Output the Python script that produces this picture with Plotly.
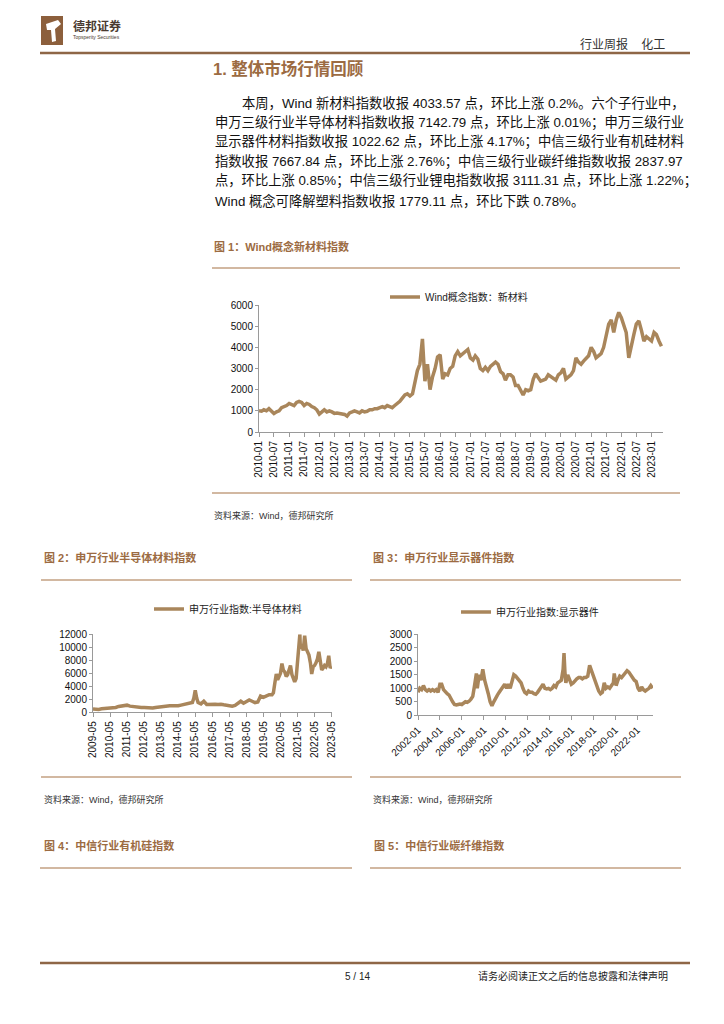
import pandas as pd
import plotly.graph_objects as go

W, H = 724, 1024
OFF = 8  # the page body margin offsets the figure by 8px
def fx(x): return (x - OFF) / W
def fy(y): return 1 - (y - OFF) / H

# ---------------- data ----------------
# Chart 1: Wind概念指数：新材料 (monthly, 2010-01 .. 2023-05)
c1_start = "2010-01-01"
c1_values = [
    1000, 980, 1050, 1000, 1100, 950, 870, 950, 1000, 1150, 1200, 1250,
    1350, 1300, 1250, 1400, 1450, 1400, 1250, 1350, 1300, 1200, 1150, 1050,
    850, 950, 1050, 950, 1000, 950, 880, 900, 880, 850, 830, 750,
    900, 950, 1000, 950, 900, 1000, 950, 980, 1050, 1050, 1100, 1100,
    1150, 1200, 1150, 1250, 1200, 1150, 1250, 1350, 1450, 1600, 1750, 1800,
    1700, 1800, 2400, 2900, 3200, 4400, 2400, 3200, 2000, 2600, 3000, 3550,
    3650, 2500, 2750, 2700, 3000, 3100, 3600, 3800, 3600, 3700, 3800, 3900,
    3500, 3400, 3600, 3450, 3000, 2900, 3050, 2900, 3100, 3200, 3300, 3200,
    2850, 2750, 2450, 2700, 2700, 2600, 2200, 2200, 2000, 1750, 2000, 1950,
    2000, 2500, 2750, 2600, 2400, 2450, 2500, 2700, 2600, 2500, 2450, 2700,
    2800, 3000, 2500, 2600, 2700, 2900, 3500, 3300, 3200, 3350, 3500, 3600,
    4000, 3800, 3500, 3600, 3700, 4000, 4500, 5100, 5300, 4700, 5300, 5650,
    5400, 5000, 4700, 3500, 4100, 4600, 5100, 5250, 4800, 4300, 4500, 4400,
    4300, 4700, 4600, 4300, 4050,
]
c1_dates = pd.date_range(c1_start, periods=len(c1_values), freq="MS")

# Chart 2: 申万行业指数:半导体材料
c2_dates = [
    "2009-05", "2009-07", "2009-09", "2009-11", "2010-01", "2010-03", "2010-05", "2010-07",
    "2010-09", "2010-11", "2011-01", "2011-03", "2011-05", "2011-07", "2011-09", "2011-11",
    "2012-01", "2012-03", "2012-05", "2012-07", "2012-09", "2012-11", "2013-01", "2013-03",
    "2013-05", "2013-07", "2013-09", "2013-11", "2014-01", "2014-03", "2014-05", "2014-07",
    "2014-09", "2014-11", "2015-01", "2015-03", "2015-04", "2015-05", "2015-06", "2015-07",
    "2015-09", "2015-11", "2016-01", "2016-03", "2016-05", "2016-07", "2016-09", "2016-11",
    "2017-01", "2017-03", "2017-05", "2017-07", "2017-09", "2017-11", "2018-01", "2018-03",
    "2018-05", "2018-07", "2018-09", "2018-11", "2019-01", "2019-03", "2019-05", "2019-07",
    "2019-09", "2019-11", "2019-12", "2020-01", "2020-02", "2020-03", "2020-04", "2020-05",
    "2020-06", "2020-07", "2020-08", "2020-09", "2020-10", "2020-11", "2020-12", "2021-01",
    "2021-02", "2021-03", "2021-04", "2021-05", "2021-06-20", "2021-07", "2021-08", "2021-09",
    "2021-10", "2021-11", "2021-12", "2022-01", "2022-02", "2022-03", "2022-04", "2022-05",
    "2022-06", "2022-07", "2022-08", "2022-09", "2022-10", "2022-11", "2022-12", "2023-01",
    "2023-02", "2023-03", "2023-04", "2023-05",
]
c2_values = [
    500, 420, 450, 550, 600, 650, 700, 650,
    750, 900, 950, 1000, 1100, 950, 900, 850,
    700, 750, 750, 700, 650, 650, 750, 800,
    900, 1000, 1050, 1000, 1000, 950, 1000, 1100,
    1200, 1250, 1300, 1500, 2200, 3400, 2200, 1500,
    1300, 1700, 1200, 1250, 1200, 1250, 1200, 1250,
    1150, 1100, 1000, 950, 1050, 1300, 1700, 1400,
    1700, 1900, 1700, 1500, 1600, 2500, 2300, 2500,
    2700, 2700, 3000, 4500, 5900, 5000, 5400, 6000,
    7500, 6500, 6200, 5500, 5800, 6500, 7200, 5800,
    5000, 4700, 5200, 8000, 12000, 9800, 10500, 9500,
    11800, 9800, 9200, 8800, 7600, 5900, 7000, 7200,
    7600, 8200, 9300, 7800, 6500, 6800, 7200, 7000,
    7500, 8700, 6800, 7100,
]

# Chart 3: 申万行业指数:显示器件
c3_dates = [
    "2002-01", "2002-03", "2002-05", "2002-07", "2002-09", "2002-11", "2003-01", "2003-03",
    "2003-05", "2003-07", "2003-09", "2003-11", "2004-01", "2004-03", "2004-05", "2004-07",
    "2004-09", "2004-11", "2005-01", "2005-03", "2005-05", "2005-07", "2005-09", "2005-11",
    "2006-01", "2006-03", "2006-05", "2006-07", "2006-09", "2006-11", "2007-01", "2007-03",
    "2007-05", "2007-06", "2007-08", "2007-10", "2007-12", "2008-02", "2008-04", "2008-06",
    "2008-08", "2008-10", "2008-12", "2009-02", "2009-04", "2009-06", "2009-08", "2009-10",
    "2009-12", "2010-02", "2010-04", "2010-06", "2010-08", "2010-10", "2010-12", "2011-02",
    "2011-04", "2011-06", "2011-08", "2011-10", "2011-12", "2012-02", "2012-04", "2012-06",
    "2012-08", "2012-10", "2012-12", "2013-02", "2013-04", "2013-06", "2013-08", "2013-10",
    "2013-12", "2014-02", "2014-04", "2014-06", "2014-08", "2014-10", "2014-12", "2015-02",
    "2015-04", "2015-05", "2015-06", "2015-07", "2015-09", "2015-11", "2016-01", "2016-03",
    "2016-05", "2016-07", "2016-09", "2016-11", "2017-01", "2017-03", "2017-05", "2017-07",
    "2017-09", "2017-11", "2018-01", "2018-03", "2018-05", "2018-07", "2018-09", "2018-11",
    "2019-01", "2019-03", "2019-05", "2019-07", "2019-09", "2019-11", "2019-12", "2020-02",
    "2020-04", "2020-06", "2020-08", "2020-10", "2020-12", "2021-02", "2021-04", "2021-06",
    "2021-08", "2021-10", "2021-12", "2022-02", "2022-04", "2022-06", "2022-08", "2022-10",
    "2022-12", "2023-02", "2023-04", "2023-06",
]
c3_values = [
    850, 1000, 950, 1100, 950, 900, 950, 900,
    950, 900, 950, 850, 1150, 1150, 950, 850,
    800, 750, 600, 500, 400, 380, 400, 420,
    400, 450, 500, 480, 520, 600, 700, 1100,
    1550, 1000, 1500, 1300, 1700, 1300, 1100, 800,
    500, 350, 500, 650, 750, 850, 950, 1050,
    1150, 1000, 1150, 1000, 1200, 1500, 1450, 1350,
    1300, 1200, 1000, 850, 800, 900, 850, 850,
    800, 780, 850, 950, 1000, 1150, 1000, 980,
    1000, 950, 1000, 1100, 1050, 1200, 1250, 1300,
    1700, 2300, 1600, 1200, 1500, 1300, 1150, 1200,
    1300, 1350, 1400, 1400, 1350, 1400, 1400, 1450,
    1850, 1650, 1500, 1300, 1100, 900, 800, 850,
    1200, 1000, 1050, 1000, 1100, 1200, 1550, 1100,
    1300, 1450, 1400, 1500, 1550, 1650, 1600, 1500,
    1350, 1300, 1250, 1000, 900, 1050, 950, 900,
    950, 1000, 1100, 1000,
]

c1_name = "Wind概念指数：新材料"
c2_name = "申万行业指数:半导体材料"
c3_name = "申万行业指数:显示器件"

# ---------------- style ----------------
LINE = "#A9865B"
BROWN = "#9C6B42"
RULE = "#C3A182"
DARK = "#8E6646"
AX = "#9A9A9A"
FONT = "Liberation Sans, Noto Sans CJK SC, sans-serif"

fig = go.Figure()
fig.add_trace(go.Scatter(x=c1_dates, y=c1_values, mode="lines", name=c1_name, showlegend=True,
                         line=dict(color=LINE, width=3.5), xaxis="x", yaxis="y", legend="legend"))
fig.add_trace(go.Scatter(x=c2_dates, y=c2_values, mode="lines", name=c2_name, showlegend=True,
                         line=dict(color=LINE, width=3.5), xaxis="x2", yaxis="y2", legend="legend2"))
fig.add_trace(go.Scatter(x=c3_dates, y=c3_values, mode="lines", name=c3_name, showlegend=True,
                         line=dict(color=LINE, width=3.5), xaxis="x3", yaxis="y3", legend="legend3"))

def xaxis(dom, rng, dtick, tick0, angle, anchor):
    return dict(domain=[fx(dom[0]), fx(dom[1])], range=rng, type="date", dtick=dtick, tick0=tick0,
                tickformat="%Y-%m", tickangle=angle, showgrid=False, zeroline=False,
                showline=True, linecolor=AX, linewidth=1, ticks="outside", ticklen=4,
                tickcolor=AX, tickfont=dict(family=FONT, size=10, color="#111"), anchor=anchor,
                automargin=False)

def yaxis(dom, rng, dtick, anchor):
    return dict(domain=[fy(dom[1]), fy(dom[0])], range=rng, dtick=dtick, showgrid=False,
                zeroline=False, showline=True, linecolor=AX, linewidth=1, ticks="outside",
                ticklen=3, tickcolor=AX, tickfont=dict(family=FONT, size=10, color="#111"),
                anchor=anchor, tickformat="d", automargin=False)

fig.update_layout(
    template="none", showlegend=True,
    width=W, height=H, margin=dict(l=0, r=0, t=0, b=0, pad=0, autoexpand=False),
    paper_bgcolor="white", plot_bgcolor="white",
    xaxis=xaxis((259, 663), ["2010-01-01", "2023-05-20"], "M6", "2010-01-01", -90, "y"),
    yaxis=yaxis((305, 432), [0, 6000], 1000, "x"),
    xaxis2=xaxis((93, 332), ["2009-05-01", "2023-05-10"], "M12", "2009-05-01", -90, "y2"),
    yaxis2=yaxis((634.3, 712.3), [0, 12000], 2000, "x2"),
    xaxis3=xaxis((418, 653), ["2002-01-01", "2023-06-15"], "M24", "2002-01-01", -45, "y3"),
    yaxis3=yaxis((634.3, 715.3), [0, 3000], 500, "x3"),
)

def legend(x, y):
    return dict(x=fx(x), y=fy(y), xanchor="left", yanchor="middle", bgcolor="rgba(0,0,0,0)",
                borderwidth=0, itemwidth=30, font=dict(family=FONT, size=10, color="#222"),
                visible=True)

fig.update_layout(legend=legend(385, 297), legend2=legend(149, 609), legend3=legend(456, 612))

shapes = []
def hline(x0, x1, y, color, w):
    shapes.append(dict(type="line", xref="paper", yref="paper", x0=fx(x0), x1=fx(x1),
                       y0=fy(y), y1=fy(y), line=dict(color=color, width=w)))

# header / footer rules
hline(40, 690, 53, DARK, 2.5)
hline(40, 690, 963, DARK, 2.5)
# figure rules
hline(212, 680, 268, RULE, 1.5)
hline(212, 680, 493, RULE, 1.5)
hline(41, 352, 580, RULE, 1.5)
hline(370, 681, 580, RULE, 1.5)
hline(41, 352, 777, RULE, 1.5)
hline(370, 681, 777, RULE, 1.5)
hline(40, 352, 868, RULE, 1.5)
hline(370, 681, 868, RULE, 1.5)

# logo
shapes.append(dict(type="rect", xref="paper", yref="paper", x0=fx(41), x1=fx(63), y0=fy(45), y1=fy(16),
                   fillcolor="#8C5F3C", line=dict(width=0)))
shapes.append(dict(type="path", xref="paper", yref="paper",
                   path=f"M {fx(46)},{fy(24)} L {fx(58)},{fy(20)} L {fx(61)},{fy(24)} L {fx(55)},{fy(29)} "
                        f"L {fx(56)},{fy(41)} L {fx(52)},{fy(42)} L {fx(51)},{fy(30)} L {fx(47)},{fy(30)} Z",
                   fillcolor="white", line=dict(width=0)))
fig.update_layout(shapes=shapes)

ann = []
def text(x, y, s, size, color="#222", anchor="left", bold=False):
    if bold:
        s = f"<b>{s}</b>"
    ann.append(dict(xref="paper", yref="paper", x=fx(x), y=fy(y), text=s, showarrow=False,
                    xanchor=anchor, yanchor="middle", font=dict(family=FONT, size=size, color=color)))

text(71, 26, "德邦证券", 12, "#4A3A30", bold=True)
text(71, 37, "Topsperity Securities", 5, "#4A3A30")
text(667, 44, "行业周报    化工", 12, "#333", anchor="right")

text(211, 68, "1. 整体市场行情回顾", 16.5, BROWN, bold=True)

para = [
    (240, "本周，Wind 新材料指数收报 4033.57 点，环比上涨 0.2%。六个子行业中，"),
    (213, "申万三级行业半导体材料指数收报 7142.79 点，环比上涨 0.01%；申万三级行业"),
    (213, "显示器件材料指数收报 1022.62 点，环比上涨 4.17%；中信三级行业有机硅材料"),
    (213, "指数收报 7667.84 点，环比上涨 2.76%；中信三级行业碳纤维指数收报 2837.97"),
    (213, "点，环比上涨 0.85%；中信三级行业锂电指数收报 3111.31 点，环比上涨 1.22%；"),
    (213, "Wind 概念可降解塑料指数收报 1779.11 点，环比下跌 0.78%。"),
]
para_y = [103.3, 122.7, 142.3, 161.7, 181.0, 201.0]
for (x, s), y in zip(para, para_y):
    text(x, y, s, 13.3, "#111")

text(212, 246, "图 1：Wind概念新材料指数", 11, BROWN, bold=True)
text(212, 515, "资料来源：Wind，德邦研究所", 9, "#333")
text(42, 557, "图 2：申万行业半导体材料指数", 11, BROWN, bold=True)
text(42, 799, "资料来源：Wind，德邦研究所", 9, "#333")
text(371, 557, "图 3：申万行业显示器件指数", 11, BROWN, bold=True)
text(371, 799, "资料来源：Wind，德邦研究所", 9, "#333")
text(42, 845, "图 4：中信行业有机硅指数", 11, BROWN, bold=True)
text(372, 845, "图 5：中信行业碳纤维指数", 11, BROWN, bold=True)

text(357, 976, "5 / 14", 10, "#222", anchor="center")
text(670, 976, "请务必阅读正文之后的信息披露和法律声明", 10, "#222", anchor="right")

fig.update_layout(annotations=ann)
fig.write_html("out.html")
